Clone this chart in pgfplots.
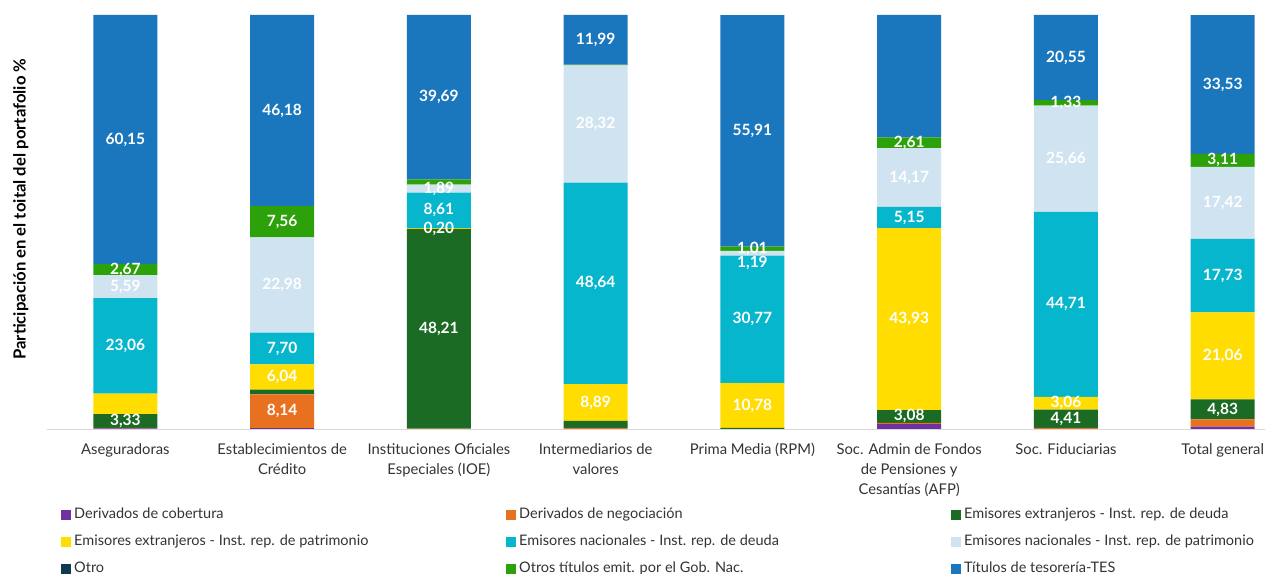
\documentclass[border=0pt]{standalone}
\usepackage{fontspec}
\setmainfont{Lato}
\usepackage{pgfplots}
\usepackage{pgfplotstable}
\pgfplotsset{compat=1.18}

\definecolor{cCob}{HTML}{7030A0}
\definecolor{cNeg}{HTML}{E8711F}
\definecolor{cExtD}{HTML}{1B6B24}
\definecolor{cExtP}{HTML}{FFDD00}
\definecolor{cNacD}{HTML}{06B6CC}
\definecolor{cNacP}{HTML}{D0E3F1}
\definecolor{cOtro}{HTML}{0E3B52}
\definecolor{cOtros}{HTML}{2DA10A}
\definecolor{cTES}{HTML}{1A77BD}
\definecolor{cTxt}{HTML}{333333}

% x: 0 Aseguradoras, 1 Establecimientos, 2 IOE, 3 Intermediarios, 4 RPM, 5 AFP, 6 Fiduciarias, 7 Total
\pgfplotstableread{
x y lab
0 0.15 {}
1 0.20 {}
2 0.00 {}
3 0.00 {}
4 0.00 {}
5 1.20 {}
6 0.00 {}
7 0.60 {}
}\tCob
\pgfplotstableread{
x y lab
0 0.10 {}
1 8.14 8,14
2 0.10 {}
3 0.26 {}
4 0.00 {}
5 0.30 {}
6 0.28 {}
7 1.70 {}
}\tNeg
\pgfplotstableread{
x y lab
0 3.33 3,33
1 1.20 {}
2 48.21 48,21
3 1.70 {}
4 0.30 {}
5 3.08 3,08
6 4.41 4,41
7 4.83 4,83
}\tExtD
\pgfplotstableread{
x y lab
0 4.95 {}
1 6.04 6,04
2 0.20 0,20
3 8.89 8,89
4 10.78 10,78
5 43.93 43,93
6 3.06 3,06
7 21.06 21,06
}\tExtP
\pgfplotstableread{
x y lab
0 23.06 23,06
1 7.70 7,70
2 8.61 8,61
3 48.64 48,64
4 30.77 30,77
5 5.15 5,15
6 44.71 44,71
7 17.73 17,73
}\tNacD
\pgfplotstableread{
x y lab
0 5.59 5,59
1 22.98 22,98
2 1.89 1,89
3 28.32 28,32
4 1.19 {\raisebox{-14bp}[0pt][0pt]{1,19}}
5 14.17 14,17
6 25.66 25,66
7 17.42 17,42
}\tNacP
\pgfplotstableread{
x y lab
0 0.00 {}
1 0.00 {}
2 0.00 {}
3 0.00 {}
4 0.00 {}
5 0.00 {}
6 0.00 {}
7 0.00 {}
}\tOtro
\pgfplotstableread{
x y lab
0 2.67 2,67
1 7.56 7,56
2 1.30 {}
3 0.20 {}
4 1.01 1,01
5 2.61 2,61
6 1.33 1,33
7 3.11 3,11
}\tOtros
\pgfplotstableread{
x y lab
0 60.15 60,15
1 46.18 46,18
2 39.69 39,69
3 11.99 11,99
4 55.91 55,91
5 29.57 29,57
6 20.55 20,55
7 33.53 33,53
}\tTES

\newcommand\lw[1]{\makebox[430bp][l]{#1}}

\pgfplotsset{
  base/.style={
    at={(47bp,145bp)}, anchor=south west,
    scale only axis, width=1218bp, height=414bp,
    ybar stacked, bar width=64bp,
    xmin=-0.5, xmax=7.27, ymin=0, ymax=100,
    enlargelimits=false,
  },
  lab/.style={fill=none, draw=none},
}

\begin{document}
\begin{tikzpicture}
\useasboundingbox (0,0) rectangle (1265bp,574bp);
\begin{axis}[base,
  axis x line*=bottom, axis y line*=left,
  x axis line style={draw=black!15, line width=1bp},
  y axis line style={draw=none},
  xtick={0,...,7}, xtick style={draw=none}, major tick length=0pt,
  xticklabels={Aseguradoras, {Establecimientos de\\Crédito}, {Instituciones Oficiales\\Especiales (IOE)}, {Intermediarios de\\valores}, {Prima Media (RPM)}, {Soc. Admin de Fondos\\de Pensiones y\\Cesantías (AFP)}, {Soc. Fiduciarias}, {Total general}},
  xticklabel style={font=\fontsize{14.8bp}{20bp}\selectfont, align=center, text=cTxt, yshift=-11bp},
  ytick=\empty,
  ylabel={Participación en el toital del portafolio \%},
  ylabel style={font=\fontsize{16.7bp}{18bp}\selectfont\bfseries, text=black, at={(axis description cs:-0.0215,0.531)}, anchor=center},
  legend columns=3,
  legend image code/.code={\fill[#1] (0bp,-5bp) rectangle (10bp,5bp);},
  legend style={draw=none, fill=none, at={(axis description cs:0,0)}, anchor=north west, xshift=14bp, yshift=-77bp,
    font=\fontsize{14.5bp}{17bp}\selectfont, text=cTxt, inner sep=0pt,
    nodes={text height=10.5bp, text depth=3bp, inner sep=2bp},
    row sep=9.5bp,
    /tikz/every odd column/.append style={column sep=1bp},
    /tikz/every even column/.append style={column sep=0bp}},
  legend cell align=left,
]
\addplot[fill=cCob, draw=none] table[x=x,y=y] {\tCob};
\addlegendentry{\lw{Derivados de cobertura}}
\addplot[fill=cNeg, draw=none] table[x=x,y=y] {\tNeg};
\addlegendentry{\lw{Derivados de negociación}}
\addplot[fill=cExtD, draw=none] table[x=x,y=y] {\tExtD};
\addlegendentry{Emisores extranjeros - Inst. rep. de deuda}
\addplot[fill=cExtP, draw=none] table[x=x,y=y] {\tExtP};
\addlegendentry{\lw{Emisores extranjeros - Inst. rep. de patrimonio}}
\addplot[fill=cNacD, draw=none] table[x=x,y=y] {\tNacD};
\addlegendentry{\lw{Emisores nacionales - Inst. rep. de deuda}}
\addplot[fill=cNacP, draw=none] table[x=x,y=y] {\tNacP};
\addlegendentry{Emisores nacionales - Inst. rep. de patrimonio}
\addplot[fill=cOtro, draw=none] table[x=x,y=y] {\tOtro};
\addlegendentry{\lw{Otro}}
\addplot[fill=cOtros, draw=none] table[x=x,y=y] {\tOtros};
\addlegendentry{\lw{Otros títulos emit. por el Gob. Nac.}}
\addplot[fill=cTES, draw=none] table[x=x,y=y] {\tTES};
\addlegendentry{Títulos de tesorería-TES}
\end{axis}
% labels on top
\begin{axis}[base, hide axis,
  nodes near coords, point meta=explicit symbolic,
  every node near coord/.append style={font=\fontsize{15.5bp}{18bp}\selectfont\bfseries, text=white, anchor=center, inner sep=0pt},
]
\addplot[lab] table[x=x,y=y,meta=lab] {\tCob};
\addplot[lab] table[x=x,y=y,meta=lab] {\tNeg};
\addplot[lab] table[x=x,y=y,meta=lab] {\tExtD};
\addplot[lab] table[x=x,y=y,meta=lab] {\tExtP};
\addplot[lab] table[x=x,y=y,meta=lab] {\tNacD};
\addplot[lab] table[x=x,y=y,meta=lab] {\tNacP};
\addplot[lab] table[x=x,y=y,meta=lab] {\tOtro};
\addplot[lab] table[x=x,y=y,meta=lab] {\tOtros};
\addplot[lab] table[x=x,y=y,meta=lab] {\tTES};
\end{axis}
\end{tikzpicture}
\end{document}
